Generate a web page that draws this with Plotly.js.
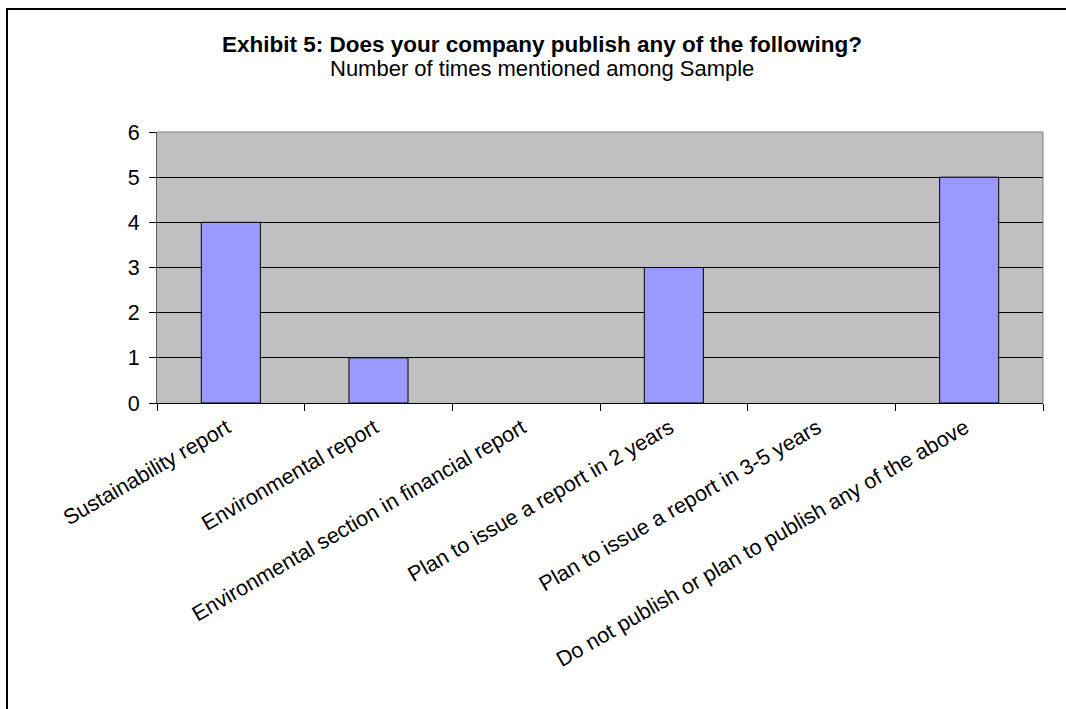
<!DOCTYPE html>
<html>
<head>
<meta charset="utf-8">
<script src="https://cdn.plot.ly/plotly-3.0.1.min.js"></script>
<style>
  html, body { margin: 0; padding: 0; background: #ffffff; }
  #chart { width: 1066px; height: 709px; }
</style>
</head>
<body>
<div id="chart"></div>
<script>
const categories = [
  "Sustainability report",
  "Environmental report",
  "Environmental section in financial report",
  "Plan to issue a report in 2 years",
  "Plan to issue a report in 3-5 years",
  "Do not publish or plan to publish any of the above"
];
const counts = [4, 1, 0, 3, 0, 5];
const yTicks = [0, 1, 2, 3, 4, 5, 6];
const titleText = "Exhibit 5: Does your company publish any of the following?";
const subtitleText = "Number of times mentioned among Sample";

const FONT = "'Liberation Sans', Arial, sans-serif";

const trace = {
  type: "bar",
  x: categories,
  y: counts,
  marker: {
    color: "#9999FF",
    line: { color: "#000000", width: counts.map(v => (v === 0 ? 0 : 1)) }
  },
  hoverinfo: "x+y"
};

const layout = {
  width: 1066,
  height: 709,
  margin: { l: 157, r: 23, t: 132, b: 306, pad: 0 },
  paper_bgcolor: "#ffffff",
  plot_bgcolor: "#C0C0C0",
  showlegend: false,
  bargap: 0.6,
  font: { family: FONT, color: "#000000", size: 21 },
  xaxis: {
    type: "category",
    tickangle: -30,
    ticks: "outside",
    tickson: "boundaries",
    ticklen: 7,
    tickcolor: "#000000",
    tickwidth: 1,
    ticklabelshift: -4,
    ticklabelstandoff: 3,
    showline: true,
    linecolor: "#000000",
    linewidth: 1,
    showgrid: false,
    tickfont: { family: FONT, size: 21.5, color: "#000000" },
    automargin: false
  },
  yaxis: {
    range: [0, 6],
    tickvals: yTicks,
    ticktext: yTicks.map(String),
    ticks: "outside",
    ticklen: 7,
    tickcolor: "#000000",
    ticklabelstandoff: 5,
    showline: true,
    linecolor: "#5a5a5a",
    linewidth: 1,
    showgrid: true,
    gridcolor: "#000000",
    gridwidth: 1,
    zeroline: false,
    tickfont: { family: FONT, size: 21.5, color: "#000000" },
    automargin: false
  },
  shapes: [
    { type: "line", xref: "paper", yref: "paper", x0: 0, x1: 1, y0: 1, y1: 1,
      line: { color: "#808080", width: 1 }, layer: "above" },
    { type: "line", xref: "paper", yref: "paper", x0: 1, x1: 1, y0: 0, y1: 1,
      line: { color: "#808080", width: 1 }, layer: "above" },
    { type: "rect", xref: "paper", yref: "paper",
      x0: -0.1693, x1: 1.05, y0: 1.4539, y1: -1.2,
      line: { color: "#000000", width: 2 }, fillcolor: "rgba(0,0,0,0)", layer: "below" }
  ],
  annotations: [
    { text: "<b>" + titleText + "</b>", xref: "paper", yref: "paper",
      x: 0.4345, y: 1.322, xanchor: "center", yanchor: "middle", showarrow: false,
      font: { family: FONT, size: 22.5, color: "#000000" } },
    { text: subtitleText, xref: "paper", yref: "paper",
      x: 0.4345, y: 1.236, xanchor: "center", yanchor: "middle", showarrow: false,
      font: { family: FONT, size: 22, color: "#000000" } }
  ]
};

Plotly.newPlot("chart", [trace], layout, { displayModeBar: false, staticPlot: true });
</script>
</body>
</html>
